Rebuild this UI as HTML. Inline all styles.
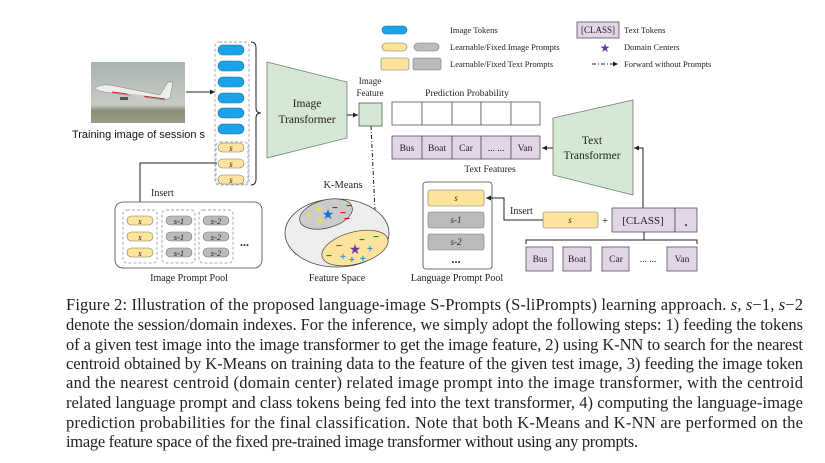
<!DOCTYPE html>
<html><head><meta charset="utf-8"><style>
html,body{margin:0;padding:0;background:#fff;}
svg{display:block;}
.t{font-family:"Liberation Serif",serif;fill:#222;}
.s{font-family:"Liberation Sans",sans-serif;fill:#111;}
</style></head><body>
<svg width="825" height="463" viewBox="0 0 825 463" xmlns="http://www.w3.org/2000/svg">
<defs>
<marker id="ah" markerWidth="6" markerHeight="6" refX="5" refY="3" orient="auto"><path d="M0,0.5 L5,3 L0,5.5z" fill="#222"/></marker>
<linearGradient id="sky" x1="0" y1="0" x2="0" y2="1"><stop offset="0" stop-color="#a9b3b0"/><stop offset="0.7" stop-color="#c8ccc4"/><stop offset="0.8" stop-color="#8a8d78"/><stop offset="1" stop-color="#9a9a80"/></linearGradient>
</defs>

<rect x="91" y="62" width="94" height="61" fill="url(#sky)"/>
<path d="M95,88 Q100,84 110,85 L160,95 L168,82 L173,82 L170,98 L165,100 L112,93 Q98,92 95,88z" fill="#eee" stroke="#666" stroke-width="0.4"/>
<path d="M112,92 L165,99" stroke="#b22" stroke-width="1"/>
<path d="M125,93 L150,104 L143,95z" fill="#ccc"/>
<rect x="120" y="97" width="8" height="3" fill="#555"/>
<text x="72" y="138" class="s" font-size="11" textLength="133" lengthAdjust="spacingAndGlyphs">Training image of session s</text>
<line x1="186" y1="92" x2="215" y2="92" stroke="#222" stroke-width="1" marker-end="url(#ah)"/>

<rect x="215" y="42" width="34" height="143" rx="4" fill="none" stroke="#aaa" stroke-dasharray="3,2"/>
<rect x="216" y="142" width="32" height="42" rx="4" fill="none" stroke="#aaa" stroke-dasharray="3,2"/>
<g fill="#1aa3e8" stroke="#2a6a90" stroke-width="0.6">
<rect x="218" y="45" width="26" height="10" rx="5"/><rect x="218" y="61" width="26" height="10" rx="5"/><rect x="218" y="77" width="26" height="10" rx="5"/><rect x="218" y="93" width="26" height="10" rx="5"/><rect x="218" y="108" width="26" height="10" rx="5"/><rect x="218" y="124" width="26" height="10" rx="5"/>
</g>
<g fill="#fde49a" stroke="#777" stroke-width="0.6">
<rect x="218" y="143" width="26" height="9" rx="4.5"/><rect x="218" y="159" width="26" height="9" rx="4.5"/><rect x="218" y="175" width="26" height="9" rx="4.5"/>
</g>
<g class="t" font-size="9" font-style="italic" text-anchor="middle"><text x="231" y="151">s</text><text x="231" y="167">s</text><text x="231" y="183">s</text></g>
<path d="M251,42 Q256,42 256,48 L256,108 Q256,113 261,113 Q256,113 256,118 L256,179 Q256,185 251,185" fill="none" stroke="#222" stroke-width="1"/>

<polygon points="267,62 347,82 347,138 267,158" fill="#d5e8d4" stroke="#777" stroke-width="0.8"/>
<text x="307" y="107" class="t" font-size="11.5" text-anchor="middle">Image</text>
<text x="307" y="123" class="t" font-size="11.5" text-anchor="middle">Transformer</text>
<line x1="347" y1="115" x2="358" y2="115" stroke="#222" marker-end="url(#ah)"/>
<rect x="359" y="103" width="23" height="23" fill="#d5e8d4" stroke="#555" stroke-width="0.8"/>
<text x="370" y="84" class="t" font-size="9" text-anchor="middle">Image</text>
<text x="370" y="96" class="t" font-size="9" text-anchor="middle">Feature</text>
<line x1="371" y1="126" x2="376" y2="232" stroke="#222" stroke-dasharray="4,2,1,2" marker-end="url(#ah)"/>

<polyline points="217,163 140,163 140,207" fill="none" stroke="#222" marker-end="url(#ah)"/>
<text x="151" y="196" class="t" font-size="10">Insert</text>
<rect x="115" y="202" width="147" height="66" rx="8" fill="#fff" stroke="#444" stroke-width="0.8"/>
<g fill="none" stroke="#aaa" stroke-dasharray="3,2"><rect x="123" y="210" width="34" height="53" rx="4"/><rect x="162" y="210" width="33" height="53" rx="4"/><rect x="199" y="210" width="34" height="53" rx="4"/></g>
<g stroke="#777" stroke-width="0.6">
<rect x="127" y="216" width="26" height="9" rx="4.5" fill="#fde49a"/><rect x="127" y="232" width="26" height="9" rx="4.5" fill="#fde49a"/><rect x="127" y="248" width="26" height="9" rx="4.5" fill="#fde49a"/>
<rect x="166" y="216" width="26" height="9" rx="4.5" fill="#bbb"/><rect x="166" y="232" width="26" height="9" rx="4.5" fill="#bbb"/><rect x="166" y="248" width="26" height="9" rx="4.5" fill="#bbb"/>
<rect x="203" y="216" width="26" height="9" rx="4.5" fill="#bbb"/><rect x="203" y="232" width="26" height="9" rx="4.5" fill="#bbb"/><rect x="203" y="248" width="26" height="9" rx="4.5" fill="#bbb"/>
</g>
<g class="t" font-size="8.5" font-style="italic" text-anchor="middle">
<text x="140" y="224">s</text><text x="140" y="240">s</text><text x="140" y="256">s</text>
<text x="179" y="224">s-1</text><text x="179" y="240">s-1</text><text x="179" y="256">s-1</text>
<text x="216" y="224">s-2</text><text x="216" y="240">s-2</text><text x="216" y="256">s-2</text>
</g>
<text x="240" y="246" class="t" font-size="12" font-weight="bold">...</text>
<text x="189" y="281" class="t" font-size="10" text-anchor="middle">Image Prompt Pool</text>

<text x="343" y="188" class="t" font-size="10.5" text-anchor="middle">K-Means</text>
<ellipse cx="337" cy="233" rx="52" ry="34" fill="#eee" stroke="#444" stroke-width="0.8"/>
<ellipse cx="326" cy="214" rx="27" ry="14" transform="rotate(-15 326 214)" fill="#ccc" stroke="#444" stroke-width="0.7"/>
<ellipse cx="355" cy="248" rx="34" ry="16" transform="rotate(-15 355 248)" fill="#fde49a" stroke="#444" stroke-width="0.7"/>
<g font-family="Liberation Sans" font-weight="bold" font-size="10">
<text x="306" y="219" fill="#ee0">+</text><text x="316" y="212" fill="#ee0">+</text><text x="317" y="224" fill="#ee0">+</text>
<text x="332" y="211" fill="#e00">−</text><text x="346" y="209" fill="#e00">−</text><text x="340" y="216" fill="#e00">−</text><text x="344" y="222" fill="#e00">−</text>
<text x="336" y="249" fill="#090">−</text><text x="359" y="243" fill="#090">−</text><text x="373" y="240" fill="#090">−</text><text x="326" y="259" fill="#090">−</text>
<text x="367" y="252" fill="#29e">+</text><text x="340" y="260" fill="#29e">+</text><text x="349" y="263" fill="#29e">+</text><text x="360" y="262" fill="#29e">+</text>
</g>
<text x="328" y="219" font-size="14" fill="#1a6fd1" text-anchor="middle" font-family="DejaVu Sans">★</text>
<text x="355" y="254" font-size="14" fill="#6a3aa0" text-anchor="middle" font-family="DejaVu Sans">★</text>
<text x="337" y="281" class="t" font-size="10" text-anchor="middle">Feature Space</text>

<rect x="382" y="26" width="25" height="8" rx="4" fill="#1aa3e8" stroke="#2a6a90" stroke-width="0.6"/>
<text x="450" y="33" class="t" font-size="8.5">Image Tokens</text>
<rect x="382" y="43" width="25" height="8" rx="4" fill="#fde49a" stroke="#777" stroke-width="0.6"/>
<rect x="414" y="43" width="25" height="8" rx="4" fill="#bbb" stroke="#777" stroke-width="0.6"/>
<text x="450" y="50" class="t" font-size="8.5">Learnable/Fixed Image Prompts</text>
<rect x="381" y="58" width="28" height="12" rx="2" fill="#fde49a" stroke="#777" stroke-width="0.6"/>
<rect x="413" y="58" width="28" height="12" rx="2" fill="#bbb" stroke="#777" stroke-width="0.6"/>
<text x="450" y="67" class="t" font-size="8.5">Learnable/Fixed Text Prompts</text>
<rect x="577" y="22" width="42" height="16" fill="#e1d5e7" stroke="#555" stroke-width="0.8"/>
<text x="598" y="33" class="t" font-size="9" text-anchor="middle">[CLASS]</text>
<text x="624" y="33" class="t" font-size="8.5">Text Tokens</text>
<text x="605" y="52" font-size="12" fill="#6a3aa0" text-anchor="middle" font-family="DejaVu Sans">★</text>
<text x="624" y="50" class="t" font-size="8.5">Domain Centers</text>
<line x1="592" y1="64" x2="618" y2="64" stroke="#222" stroke-dasharray="4,2,1,2" marker-end="url(#ah)"/>
<text x="624" y="67" class="t" font-size="8.5">Forward without Prompts</text>

<text x="467" y="96" class="t" font-size="9.5" text-anchor="middle">Prediction Probability</text>
<g fill="#fff" stroke="#555" stroke-width="0.8">
<rect x="392" y="102" width="30" height="23"/><rect x="422" y="102" width="30" height="23"/><rect x="452" y="102" width="29" height="23"/><rect x="481" y="102" width="30" height="23"/><rect x="511" y="102" width="29" height="23"/>
</g>
<g fill="#e1d5e7" stroke="#555" stroke-width="0.8">
<rect x="392" y="136" width="30" height="23"/><rect x="422" y="136" width="30" height="23"/><rect x="452" y="136" width="29" height="23"/><rect x="481" y="136" width="30" height="23"/><rect x="511" y="136" width="29" height="23"/>
</g>
<g class="t" font-size="9.5" text-anchor="middle">
<text x="407" y="151">Bus</text><text x="437" y="151">Boat</text><text x="466" y="151">Car</text><text x="496" y="151">... ...</text><text x="525" y="151">Van</text>
</g>
<text x="490" y="172" class="t" font-size="9.5" text-anchor="middle">Text Features</text>

<polygon points="553,118 633,100 633,195 553,175" fill="#d5e8d4" stroke="#777" stroke-width="0.8"/>
<text x="592" y="144" class="t" font-size="11.5" text-anchor="middle">Text</text>
<text x="592" y="159" class="t" font-size="11.5" text-anchor="middle">Transformer</text>
<line x1="553" y1="148" x2="542" y2="148" stroke="#222" marker-end="url(#ah)"/>
<polyline points="643,208 643,148 634,148" fill="none" stroke="#222" marker-end="url(#ah)"/>

<rect x="423" y="182" width="69" height="87" rx="3" fill="#fff" stroke="#444" stroke-width="0.8"/>
<rect x="428" y="190" width="56" height="16" rx="2" fill="#fde49a" stroke="#777" stroke-width="0.6"/>
<rect x="428" y="212" width="56" height="16" rx="2" fill="#bbb" stroke="#777" stroke-width="0.6"/>
<rect x="428" y="234" width="56" height="16" rx="2" fill="#bbb" stroke="#777" stroke-width="0.6"/>
<g class="t" font-size="9" font-style="italic" text-anchor="middle"><text x="456" y="201">s</text><text x="456" y="223">s-1</text><text x="456" y="245">s-2</text></g>
<text x="456" y="263" class="t" font-size="12" font-weight="bold" text-anchor="middle">...</text>
<text x="457" y="281" class="t" font-size="10" text-anchor="middle">Language Prompt Pool</text>
<polyline points="543,220 504,220 504,198 486,198" fill="none" stroke="#222" marker-end="url(#ah)"/>
<text x="510" y="214" class="t" font-size="10">Insert</text>
<rect x="543" y="212" width="55" height="16" rx="2" fill="#fde49a" stroke="#777" stroke-width="0.6"/>
<text x="570" y="223" class="t" font-size="9" font-style="italic" text-anchor="middle">s</text>
<text x="605" y="224" class="t" font-size="11" text-anchor="middle">+</text>
<rect x="612" y="208" width="63" height="24" fill="#e1d5e7" stroke="#555" stroke-width="0.8"/>
<rect x="675" y="208" width="22" height="24" fill="#e1d5e7" stroke="#555" stroke-width="0.8"/>
<text x="643" y="224" class="t" font-size="11" text-anchor="middle">[CLASS]</text>
<text x="686" y="226" class="t" font-size="12" font-weight="bold" text-anchor="middle">.</text>
<path d="M644,232 L644,240 M526,244 L526,240 L697,240 L697,244" fill="none" stroke="#222"/>
<g fill="#e1d5e7" stroke="#555" stroke-width="0.8">
<rect x="526" y="247" width="27" height="24"/><rect x="563" y="247" width="28" height="24"/><rect x="602" y="247" width="27" height="24"/><rect x="667" y="247" width="30" height="24"/>
</g>
<g class="t" font-size="9.5" text-anchor="middle">
<text x="540" y="262">Bus</text><text x="577" y="262">Boat</text><text x="616" y="262">Car</text><text x="648" y="262">... ...</text><text x="682" y="262">Van</text>
</g>

<g class="t" font-size="16.5" fill="#111">
<text x="66" y="310" textLength="737" lengthAdjust="spacing">Figure 2: Illustration of the proposed language-image S-Prompts (S-liPrompts) learning approach. <tspan font-style="italic">s, s</tspan>−1<tspan font-style="italic">, s</tspan>−2</text>
<text x="66" y="330" textLength="737" lengthAdjust="spacing">denote the session/domain indexes. For the inference, we simply adopt the following steps: 1) feeding the tokens</text>
<text x="66" y="350" textLength="737" lengthAdjust="spacing">of a given test image into the image transformer to get the image feature, 2) using K-NN to search for the nearest</text>
<text x="66" y="369" textLength="737" lengthAdjust="spacing">centroid obtained by K-Means on training data to the feature of the given test image, 3) feeding the image token</text>
<text x="66" y="388" textLength="737" lengthAdjust="spacing">and the nearest centroid (domain center) related image prompt into the image transformer, with the centroid</text>
<text x="66" y="408" textLength="737" lengthAdjust="spacing">related language prompt and class tokens being fed into the text transformer, 4) computing the language-image</text>
<text x="66" y="428" textLength="737" lengthAdjust="spacing">prediction probabilities for the final classification. Note that both K-Means and K-NN are performed on the</text>
<text x="66" y="447" textLength="572" lengthAdjust="spacing">image feature space of the fixed pre-trained image transformer without using any prompts.</text>
</g>
</svg>
</body></html>
